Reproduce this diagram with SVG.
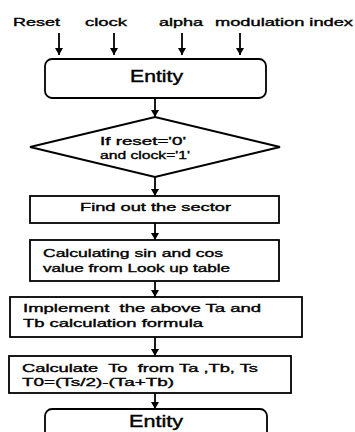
<svg xmlns="http://www.w3.org/2000/svg" width="355" height="432" viewBox="0 0 355 432">
<defs>
<marker id="ah" markerWidth="8" markerHeight="8" refX="7" refY="4" orient="auto" markerUnits="userSpaceOnUse">
<path d="M0,0 L7,4 L0,8 Z" fill="#000"/>
</marker>
</defs>
<style>
text{font-family:"Liberation Sans",Arial,sans-serif;fill:#000;font-size:11px;stroke:#000;stroke-width:0.35}
.big{font-size:16px;stroke-width:0.4}
.box{fill:#fff;stroke:#000;stroke-width:1.8}
.con{stroke:#000;stroke-width:1.8;fill:none;marker-end:url(#ah)}
</style>
<rect width="355" height="432" fill="#fff"/>
<g id="inputs">
<text x="13" y="25.5" textLength="47" lengthAdjust="spacingAndGlyphs">Reset</text>
<text x="85" y="25.5" textLength="42" lengthAdjust="spacingAndGlyphs">clock</text>
<text x="159" y="25.5" textLength="44" lengthAdjust="spacingAndGlyphs">alpha</text>
<text x="215" y="25.5" textLength="138" lengthAdjust="spacingAndGlyphs">modulation index</text>
</g>
<g id="connectors">
<line class="con" x1="59" y1="33" x2="59" y2="55"/>
<line class="con" x1="114" y1="33" x2="114" y2="55"/>
<line class="con" x1="182" y1="33" x2="182" y2="55"/>
<line class="con" x1="240" y1="33" x2="240" y2="55"/>
<line class="con" x1="155" y1="98" x2="155" y2="117"/>
<line class="con" x1="155" y1="177" x2="155" y2="196"/>
<line class="con" x1="155" y1="223" x2="155" y2="240"/>
<line class="con" x1="155" y1="281" x2="155" y2="297"/>
<line class="con" x1="155" y1="337" x2="155" y2="356"/>
<line class="con" x1="155" y1="393" x2="155" y2="409"/>
</g>
<g id="entity1">
<rect class="box" x="45" y="59" width="221" height="39" rx="7"/>
<text class="big" x="130" y="81.5" textLength="53" lengthAdjust="spacingAndGlyphs">Entity</text>
</g>
<g id="decision">
<polygon class="box" points="30,147 155,117 280,147 155,177"/>
<text x="100" y="145" textLength="86" lengthAdjust="spacingAndGlyphs">If reset='0'</text>
<text x="100" y="158.5" textLength="90" lengthAdjust="spacingAndGlyphs">and clock='1'</text>
</g>
<g id="sector">
<rect class="box" x="30" y="196" width="249" height="27"/>
<text x="80" y="211" textLength="151" lengthAdjust="spacingAndGlyphs">Find out the sector</text>
</g>
<g id="lookup">
<rect class="box" x="30" y="240" width="249" height="41"/>
<text x="43" y="256.5" textLength="180" lengthAdjust="spacingAndGlyphs">Calculating sin and cos</text>
<text x="43" y="271.5" textLength="187" lengthAdjust="spacingAndGlyphs">value from Look up table</text>
</g>
<g id="formula">
<rect class="box" x="10" y="297" width="292" height="40"/>
<text x="23" y="312" textLength="238" lengthAdjust="spacingAndGlyphs" xml:space="preserve">Implement  the above Ta and</text>
<text x="23" y="327" textLength="180" lengthAdjust="spacingAndGlyphs">Tb calculation formula</text>
</g>
<g id="calcT0">
<rect class="box" x="9" y="356" width="282" height="37"/>
<text x="22" y="371.5" textLength="236" lengthAdjust="spacingAndGlyphs" xml:space="preserve">Calculate  To  from Ta ,Tb, Ts</text>
<text x="22" y="386" textLength="152" lengthAdjust="spacingAndGlyphs">T0=(Ts/2)-(Ta+Tb)</text>
</g>
<g id="entity2">
<rect class="box" x="45" y="409" width="222" height="40" rx="7"/>
<text class="big" x="129" y="426.5" textLength="54" lengthAdjust="spacingAndGlyphs">Entity</text>
</g>
</svg>
